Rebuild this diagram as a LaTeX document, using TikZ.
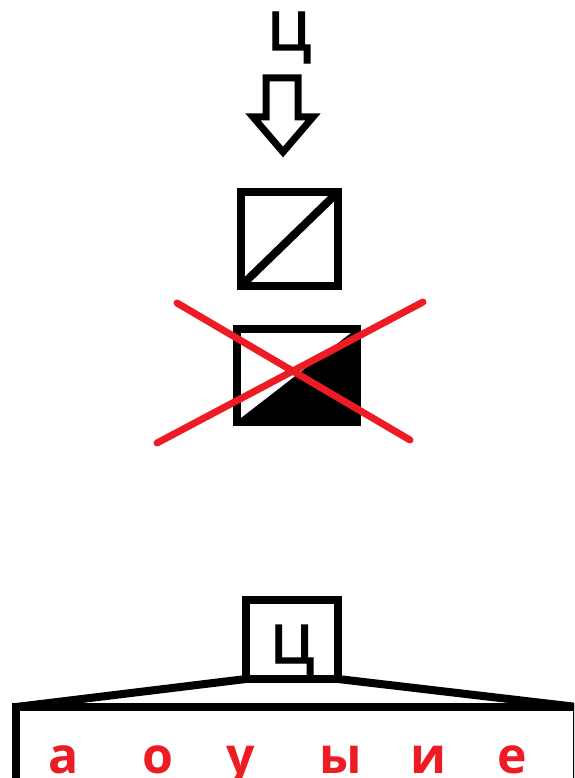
\documentclass[tikz,border=0pt]{standalone}
\usepackage{fontspec}
\setmainfont{Open Sans}
\newfontfamily\blkfont[FakeBold=1.6]{Open Sans}
\definecolor{xred}{HTML}{ED1C24}
\begin{document}
\begin{tikzpicture}[x=1pt,y=-1pt,
  frame/.style={draw=black,line width=8pt,inner sep=0pt,outer sep=0pt,fill=white},
  blk/.style={font=\blkfont\fontsize{71}{71}\selectfont,inner sep=0pt,anchor=base},
  vow/.style={font=\fontsize{50}{50}\selectfont\bfseries,text=xred,inner sep=0pt,anchor=base},
  cross/.style={draw=xred,line width=7pt,line cap=round},
  thick line/.style={draw=black,line width=8pt}]
\useasboundingbox (0,0) rectangle (574,778);
\clip (0,0) rectangle (574,778);
\fill[white] (0,0) rectangle (574,778);

% top letter and arrow
\node[blk] (topc) at (289,50) {ц};
\draw[line width=7pt,line join=miter,miter limit=10]
  (266,78) -- (298,78) -- (298,117) -- (313,117) -- (283,152) -- (253,117) -- (266,117) -- cycle;

% box with diagonal
\node[frame,minimum width=97pt,minimum height=94pt] (b1) at (289.5,239) {};
\draw[thick line] (b1.south west) -- (b1.north east);

% crossed-out box
\node[frame,minimum width=120pt,minimum height=93pt] (b2) at (297,375.5) {};
\fill[black] ([shift={(4,-4)}]b2.south west) -- ([shift={(-6,4)}]b2.north east) -- (b2.north east) -- (b2.south east) -- cycle;
\coordinate (x1s) at (177,303);
\coordinate (x1e) at (410,440);
\coordinate (x2s) at (157,443);
\coordinate (x2e) at (423,302);
\draw[cross] (x1s) -- (x1e);
\draw[cross] (x2s) -- (x2e);

% bottom structure
\node[frame,minimum width=92pt,minimum height=79pt] (sb) at (292,639.5) {};
\node[blk] (sc) at (292,663) {ц};
\node[frame,minimum width=561pt,minimum height=100pt] (bb) at (296.5,757) {};
\draw[thick line] (sb.south west) -- (bb.north west);
\draw[thick line] (sb.south east) -- (bb.north east);

\node[vow] (v1) at (64,773) {а};
\node[vow] (v2) at (158,773) {о};
\node[vow] (v3) at (241,773) {у};
\node[vow] (v4) at (341,773) {ы};
\node[vow] (v5) at (428,773) {и};
\node[vow] (v6) at (512,773) {е};
\end{tikzpicture}
\end{document}
